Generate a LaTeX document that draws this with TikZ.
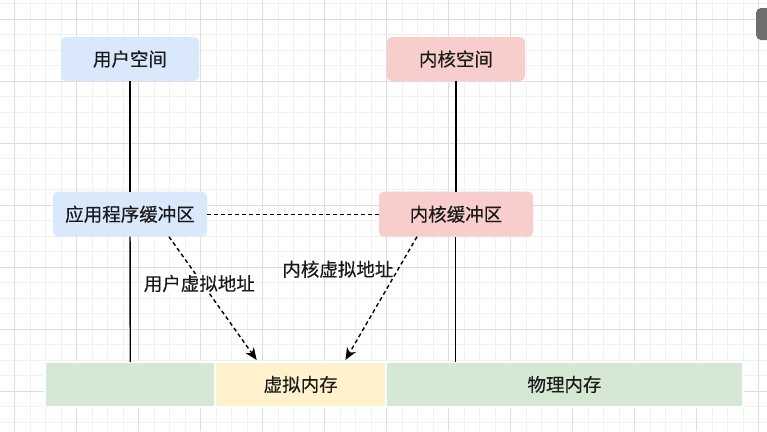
\documentclass[tikz,border=0pt]{standalone}
\usepackage{fontspec}
\setmainfont[FakeBold=0.3]{Noto Sans CJK SC}
\usetikzlibrary{arrows.meta}
\definecolor{bluefill}{HTML}{DAE8FC}
\definecolor{redfill}{HTML}{F8CECC}
\definecolor{greenfill}{HTML}{D5E8D4}
\definecolor{yellowfill}{HTML}{FFF2CC}
\definecolor{gridminor}{HTML}{F1F1F1}
\definecolor{gridmajor}{HTML}{DEDEDE}
\definecolor{badge}{HTML}{6E6E6E}
\definecolor{txt}{HTML}{1A1A1A}
\tikzset{
  lbl/.style={font=\fontsize{18.5}{20}\selectfont, text=txt},
  topbox/.style={lbl, inner sep=0pt, outer sep=0pt, rounded corners=5pt, minimum width=138pt, minimum height=44pt},
  bufbox/.style={lbl, inner sep=0pt, outer sep=0pt, rounded corners=5pt, minimum width=154pt, minimum height=45pt},
  membox/.style={lbl, inner sep=0pt, outer sep=0pt, draw=white, line width=1.6pt, minimum height=45pt},
  solidline/.style={line width=1.4pt, black},
  dashline/.style={line width=1.4pt, black, dash pattern=on 4pt off 3pt},
  dasharrow/.style={dashline, -{Stealth[length=12pt,width=10pt,inset=3.5pt]}},
  edgelbl/.style={lbl, fill=white, inner sep=1pt}
}
\begin{document}
\begin{tikzpicture}[x=1pt,y=-1pt]
\useasboundingbox (0,0) rectangle (767,431);
\fill[white] (0,0) rectangle (767,431);
% grid
\foreach \i in {-1,...,49} { \draw[gridminor, line width=0.8pt] ({14.7+15.5*\i},0) -- ({14.7+15.5*\i},431); }
\foreach \i in {-1,...,27} { \draw[gridminor, line width=0.8pt] (0,{19.3+15.5*\i}) -- (767,{19.3+15.5*\i}); }
\foreach \i in {0,...,12} { \draw[gridmajor, line width=0.9pt] ({14.7+62*\i},0) -- ({14.7+62*\i},431); }
\foreach \i in {0,...,6} { \draw[gridmajor, line width=0.9pt] (0,{19.3+62*\i}) -- (767,{19.3+62*\i}); }
% badge at top right
\begin{scope}
\clip (0,0) rectangle (767,431);
\fill[badge, rounded corners=5pt] (756,8) rectangle (785,40);
\end{scope}
% nodes
\node[topbox, fill=bluefill] (uspace) at (130,59) {用户空间};
\node[topbox, fill=redfill] (kspace) at (456,59) {内核空间};
\node[bufbox, fill=bluefill] (ubuf) at (130,214.2) {应用程序缓冲区};
\node[bufbox, fill=redfill] (kbuf) at (456,214.2) {内核缓冲区};
\node[membox, fill=greenfill, minimum width=170.5pt] (lmem) at (130.3,384.5) {};
\node[membox, fill=yellowfill, minimum width=171pt] (vmem) at (300.7,384.5) {虚拟内存};
\node[membox, fill=greenfill, minimum width=356.5pt] (phys) at (564.5,384.5) {物理内存};
% connectors
\draw[solidline] (uspace) -- (ubuf);
\draw[solidline] (ubuf) -- (lmem);
\draw[solidline] (kspace) -- (kbuf);
\draw[solidline] ([xshift=-0.5pt]kbuf.south) -- ([xshift=-0.5pt]kbuf.south |- phys.north);
\draw[dashline] (ubuf) -- (kbuf);
\draw[dasharrow] ([xshift=39pt]ubuf.south) -- node[edgelbl, pos=0.38, xshift=-3pt] (ulbl) {用户虚拟地址} ([xshift=-44pt,yshift=2pt]vmem.north);
\draw[dasharrow] ([xshift=-39pt]kbuf.south) -- node[edgelbl, pos=0.264, anchor=east, xshift=-3pt, fill=none] (klbl) {内核虚拟地址} ([xshift=44.7pt,yshift=2pt]vmem.north);
\end{tikzpicture}
\end{document}
